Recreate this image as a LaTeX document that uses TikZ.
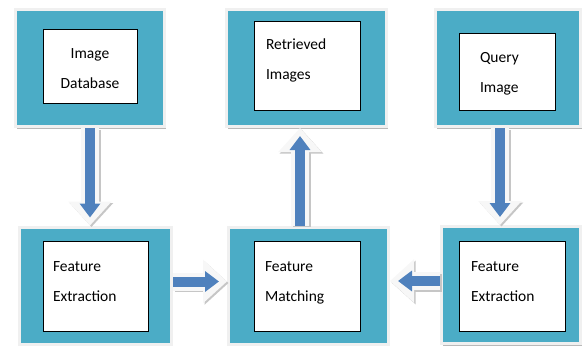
\documentclass[tikz,border=0pt]{standalone}
\usepackage{fontspec}
\setmainfont{Carlito}
\usepackage{tikz}
\usetikzlibrary{arrows.meta, positioning, shadows}
\definecolor{boxteal}{RGB}{75, 172, 198}
\definecolor{arrowblue}{RGB}{79, 129, 189}

\begin{document}
\begin{tikzpicture}[x=1pt, y=-1pt,
    outerbox/.style={draw=white!94!black, line width=3pt, fill=boxteal, inner sep=0pt,
                 minimum height=117pt,
                 drop shadow={shadow xshift=1.5pt, shadow yshift=-2pt, fill=gray!55, opacity=1}},
    innerbox/.style={draw=black, line width=0.8pt, fill=white, align=left, inner ysep=3pt,
                 text height=11pt, text depth=#1,
                 font=\fontsize{15.5}{30}\selectfont},
    flow/.style={
        preaction={draw=gray!45, line width=18pt, shorten >=0pt,
                   -{Triangle[width=42pt, length=24pt]},
                   transform canvas={xshift=1.5pt, yshift=-1.5pt}},
        preaction={draw=white!97!black, line width=18pt, shorten >=0pt,
                   -{Triangle[width=42pt, length=24pt]}},
        draw=arrowblue, line width=10pt, shorten >=8pt,
        -{Triangle[width=20pt, length=14pt]}}
]
    \useasboundingbox (0,0) rectangle (582,348);

    % outer boxes
    \node[outerbox, minimum width=149pt] (db) at (90,68) {};
    \node[outerbox, minimum width=160pt] (ret) at (306.5,68) {};
    \node[outerbox, minimum width=145pt] (qry) at (508,68) {};
    \node[outerbox, minimum width=152pt] (fe1) at (95.5,285.5) {};
    \node[outerbox, minimum width=160pt] (fm) at (308.5,285.5) {};
    \node[outerbox, minimum width=139pt] (fe2) at (511,285) {};

    % labels
    \node[innerbox=27pt, align=center, text width=74pt, inner xsep=10pt, minimum height=74pt]
        (dbtext) at (90,66) {Image\\Database};
    \node[innerbox=44pt, text width=82pt, inner xsep=12pt, minimum height=89pt]
        (rettext) at (307,65.5) {Retrieved\\Images};
    \node[innerbox=30pt, text width=54pt, inner xsep=21pt, minimum height=77pt]
        (qrytext) at (507,71.5) {Query\\Image};
    \node[innerbox=41pt, text width=85pt, inner xsep=10pt, minimum height=90pt]
        (fe1text) at (95.5,286) {Feature\\Extraction};
    \node[innerbox=41pt, text width=84pt, inner xsep=11pt, minimum height=90pt]
        (fmtext) at (307,286) {Feature\\Matching};
    \node[innerbox=41pt, text width=82pt, inner xsep=12pt, minimum height=90pt]
        (fe2text) at (512,286) {Feature\\Extraction};

    % arrows
    \draw[flow] (db.south) -- (db.south |- fe1.north);
    \draw[flow] ([xshift=-8.5pt]fm.north) -- ([xshift=-8.5pt]fm.north |- ret.south);
    \draw[flow] ([xshift=-8pt]qry.south) -- ([xshift=-8pt]qry.south |- fe2.north);
    \draw[flow] ([yshift=4pt]fe1.east) -- ([yshift=4pt]fe1.east -| fm.west);
    \draw[flow] ([yshift=4pt]fe2.west) -- ([yshift=4pt]fe2.west -| fm.east);
\end{tikzpicture}
\end{document}
